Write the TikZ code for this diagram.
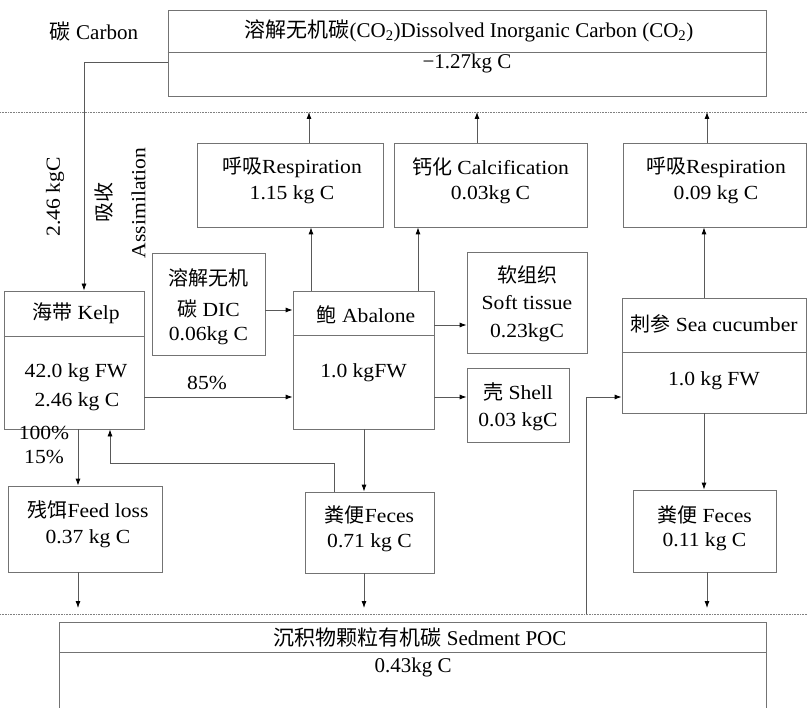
\documentclass[tikz,border=0pt]{standalone}
\usepackage{fontspec}
\setmainfont{Liberation Serif}[FakeStretch=1.08]
\newfontfamily\plainserif{Liberation Serif}
\newfontfamily\cjk{Noto Sans CJK SC}
\usetikzlibrary{arrows.meta}
\newcommand\zh[1]{{\cjk #1}}
\definecolor{boxgray}{gray}{0.45}
\definecolor{linegray}{gray}{0.35}
\begin{document}
\begin{tikzpicture}[x=1pt,y=-1pt,
  box/.style={draw=boxgray, line width=0.8pt, inner sep=0pt},
  hold/.style={inner sep=0pt},
  txt/.style={inner sep=0pt, font=\fontsize{20}{22}\selectfont},
  ctxt/.style={inner sep=0pt, font=\plainserif\fontsize{21}{23}\selectfont},
  conn/.style={draw=linegray, line width=0.8pt, -{Latex[length=7pt,width=5pt,color=black]}},
  plainline/.style={draw=linegray, line width=0.8pt},
  sepline/.style={draw=gray, line width=0.6pt, densely dotted}]
\useasboundingbox (0,0) rectangle (808,708);

% separators
\draw[sepline] (0,112) -- (808,112);
\draw[sepline] (0,614) -- (808,614);

% boxes
\node[box, minimum width=598pt, minimum height=86pt] (dic) at (467,53) {};
\node[box, minimum width=186pt, minimum height=84pt] (resp1) at (290,185) {};
\node[box, minimum width=193pt, minimum height=84pt] (calc) at (490.5,185) {};
\node[box, minimum width=183pt, minimum height=84pt] (resp2) at (714.5,185) {};
\node[box, minimum width=140pt, minimum height=138pt] (kelp) at (74,360) {};
\node[box, minimum width=113pt, minimum height=102pt] (dicsm) at (208.5,304) {};
\node[box, minimum width=141pt, minimum height=138pt] (abal) at (363.5,360) {};
\node[box, minimum width=120pt, minimum height=101pt] (soft) at (527,302.5) {};
\node[box, minimum width=102pt, minimum height=74pt] (shell) at (518,405) {};
\node[box, minimum width=184pt, minimum height=115pt] (seacuc) at (714,355.5) {};
\node[box, minimum width=154pt, minimum height=86pt] (feed) at (85,529) {};
\node[box, minimum width=129pt, minimum height=81pt] (fec1) at (369.5,532.5) {};
\node[box, minimum width=143pt, minimum height=82pt] (fec2) at (704.5,531) {};
\node[hold, minimum width=706pt, minimum height=90pt] (sed) at (413,668) {};
\draw[boxgray, line width=0.8pt] (sed.south west) -- (sed.north west) -- (sed.north east) -- (sed.south east);

% dividers
\coordinate (y52) at (0,52);
\coordinate (y336) at (0,336);
\coordinate (y335) at (0,335);
\coordinate (y352) at (0,352);
\coordinate (y652) at (0,652);
\draw[boxgray, line width=0.8pt] (dic.west |- y52) -- (dic.east |- y52);
\draw[boxgray, line width=0.8pt] (kelp.west |- y336) -- (kelp.east |- y336);
\draw[boxgray, line width=0.8pt] (abal.west |- y335) -- (abal.east |- y335);
\draw[boxgray, line width=0.8pt] (seacuc.west |- y352) -- (seacuc.east |- y352);
\draw[boxgray, line width=0.8pt] (sed.west |- y652) -- (sed.east |- y652);

% texts
\node[ctxt] (tcarbon) at (94,32) {\zh{碳} Carbon};
\node[ctxt] (tdic1) at (469,31) {\zh{溶解无机碳}(CO\textsubscript{2})Dissolved Inorganic Carbon (CO\textsubscript{2})};
\node[ctxt] (tdic2) at (467,63) {−1.27kg C};

\node[txt] (tr1a) at (292,167) {\zh{呼吸}Respiration};
\node[txt] (tr1b) at (292,195) {1.15 kg C};
\node[txt] (tca) at (490.5,167) {\zh{钙化} Calcification};
\node[txt] (tcb) at (490.5,195) {0.03kg C};
\node[txt] (tr2a) at (716,167) {\zh{呼吸}Respiration};
\node[txt] (tr2b) at (716,195) {0.09 kg C};

\node[txt] (tk1) at (76,313) {\zh{海带} Kelp};
\node[txt] (tk2) at (76,373) {42.0 kg FW};
\node[txt] (tk3) at (77,402) {2.46 kg C};

\node[txt] (td1) at (208.5,278) {\zh{溶解无机}};
\node[txt] (td2) at (208.5,309) {\zh{碳} DIC};
\node[txt] (td3) at (208.5,336) {0.06kg C};

\node[txt] (ta1) at (366,315) {\zh{鲍} Abalone};
\node[txt] (ta2) at (363.5,373) {1.0 kgFW};

\node[txt] (ts1) at (527,275) {\zh{软组织}};
\node[txt] (ts2) at (527,303) {Soft tissue};
\node[txt] (ts3) at (527,333) {0.23kgC};

\node[txt] (tsh1) at (518,392) {\zh{壳} Shell};
\node[txt] (tsh2) at (518,422) {0.03 kgC};

\node[txt] (tsc1) at (714,324) {\zh{刺参} Sea cucumber};
\node[txt] (tsc2) at (714,381) {1.0 kg FW};

\node[txt] (tf1) at (88,510) {\zh{残饵}Feed loss};
\node[txt] (tf2) at (88,539) {0.37 kg C};

\node[txt] (tfa1) at (369.5,515) {\zh{粪便}Feces};
\node[txt] (tfa2) at (369.5,543) {0.71 kg C};

\node[txt] (tfb1) at (704.5,515) {\zh{粪便} Feces};
\node[txt] (tfb2) at (704.5,542) {0.11 kg C};

\node[ctxt] (tsed1) at (420,638) {\zh{沉积物颗粒有机碳} Sedment POC};
\node[ctxt] (tsed2) at (413,667) {0.43kg C};

\node[txt] (p85) at (207,383) {85\%};
\node[txt] (p100) at (44,433) {100\%};
\node[txt] (p15) at (44,457) {15\%};

\node[txt, rotate=90] (t246) at (55,197) {2.46 kgC};
\node[txt, rotate=90, align=center, font=\fontsize{20}{34}\selectfont] (tassim) at (120,203) {\zh{吸收}\\Assimilation};

% connectors
\coordinate (k1) at (84,62);
\draw[conn] (dic.west |- k1) -- (k1) -- (k1 |- kelp.north);

\coordinate (u1) at (309,112);
\coordinate (u2) at (477,112);
\coordinate (u3) at (707,112);
\draw[conn] (u1 |- resp1.north) -- (u1);
\draw[conn] (u2 |- calc.north) -- (u2);
\draw[conn] (u3 |- resp2.north) -- (u3);

\coordinate (a1) at (311,0);
\coordinate (a2) at (418,0);
\draw[conn] (a1 |- abal.north) -- (a1 |- resp1.south);
\draw[conn] (a2 |- abal.north) -- (a2 |- calc.south);

\coordinate (d1) at (0,310);
\coordinate (d2) at (0,325);
\coordinate (d3) at (0,397);
\draw[conn] (d1 -| dicsm.east) -- (d1 -| abal.west);
\draw[conn] (d2 -| abal.east) -- (d2 -| soft.west);
\draw[conn] (d3 -| kelp.east) -- (d3 -| abal.west);
\draw[conn] (d3 -| abal.east) -- (d3 -| shell.west);

\coordinate (a3) at (78,0);
\coordinate (a4) at (364,0);
\draw[conn] (a3 |- kelp.south) -- (a3 |- feed.north);
\draw[conn] (a4 |- abal.south) -- (a4 |- fec1.north);

\coordinate (a5) at (334,463);
\coordinate (a6) at (110,463);
\draw[conn] (a5 |- fec1.north) -- (a5) -- (a6) -- (a6 |- kelp.south);

\coordinate (a7) at (704,0);
\draw[conn] (a7 |- seacuc.north) -- (a7 |- resp2.south);
\draw[conn] (a7 |- seacuc.south) -- (a7 |- fec2.north);

\coordinate (b1) at (586,614);
\coordinate (b2) at (586,397);
\draw[conn] (b1) -- (b2) -- (b2 -| seacuc.west);

\coordinate (c1) at (78,608);
\coordinate (c2) at (364,608);
\coordinate (c3) at (707,608);
\draw[conn] (c1 |- feed.south) -- (c1);
\draw[conn] (c2 |- fec1.south) -- (c2);
\draw[conn] (c3 |- fec2.south) -- (c3);
\end{tikzpicture}
\end{document}
